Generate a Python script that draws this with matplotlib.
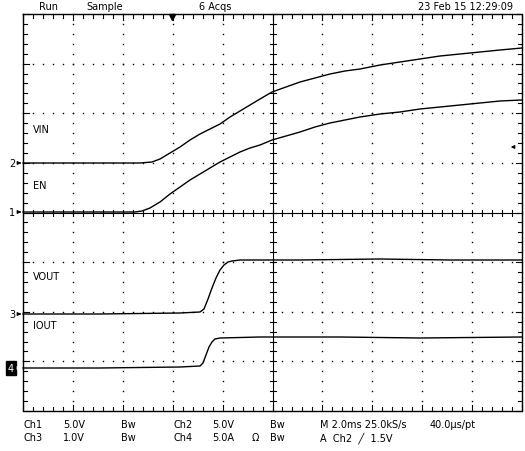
import numpy as np
import matplotlib
matplotlib.use('Agg')
import matplotlib.pyplot as plt

# traces as (x px, y px)
vin_x = [23, 60, 100, 140, 152, 160, 170, 180, 190, 200, 210, 220, 230, 240, 250, 260, 272, 286, 300, 315, 330, 345, 360, 380, 400, 420, 440, 460, 480, 500, 522]
vin_y = [164, 164, 164, 164, 163, 160, 154, 148, 141, 135, 130, 125, 118, 112, 106, 100, 93, 88, 83, 79, 75, 72, 70, 66, 63, 60, 57, 55, 53, 51, 49]
en_x = [23, 60, 100, 135, 142, 150, 160, 170, 180, 190, 200, 210, 220, 230, 240, 250, 260, 272, 286, 300, 315, 330, 345, 360, 380, 400, 420, 440, 460, 480, 500, 522]
en_y = [213, 213, 213, 213, 212, 209, 203, 195, 188, 181, 175, 169, 163, 158, 153, 149, 146, 141, 137, 133, 128, 124, 121, 118, 115, 113, 110, 108, 106, 104, 102, 101]
vout_x = [23, 100, 180, 200, 204, 208, 212, 216, 220, 224, 228, 232, 240, 300, 380, 450, 522]
vout_y = [315, 315, 314, 313, 310, 300, 289, 279, 271, 266, 263, 262, 261, 261, 260, 261, 261]
iout_x = [23, 100, 180, 200, 203, 206, 209, 212, 215, 220, 260, 340, 420, 522]
iout_y = [369, 369, 368, 367, 364, 356, 348, 343, 340, 339, 338, 338, 339, 338]

header = [(48, 'Run'), (105, 'Sample'), (215, '6 Acqs'), (465, '23 Feb 15 12:29:09')]
row1 = [(23, 'Ch1'), (63, '5.0V'), (121, 'Bw'), (173, 'Ch2'), (212, '5.0V'), (270, 'Bw'), (320, 'M 2.0ms 25.0kS/s'), (430, '40.0µs/pt')]
row2 = [(23, 'Ch3'), (63, '1.0V'), (121, 'Bw'), (173, 'Ch4'), (212, '5.0A'), (252, 'Ω'), (270, 'Bw'), (320, 'A  Ch2  ╱  1.5V')]

x0, x1, y0, y1 = 23, 522, 15, 412
dx = (x1 - x0) / 10
dy = (y1 - y0) / 8
xc, yc = x0 + 5 * dx, y0 + 4 * dy

fig = plt.figure(figsize=(5.25, 4.52), dpi=100)
ax = fig.add_axes([0, 0, 1, 1])
ax.set_xlim(0, 525)
ax.set_ylim(452, 0)
ax.axis('off')
k = 'black'

ax.plot([x0, x1, x1, x0, x0], [y0, y0, y1, y1, y0], color=k, lw=1)
# dotted graticule
for i in range(1, 10):
    if i == 5:
        continue
    xs = x0 + i * dx
    ys = np.arange(y0, y1, dy / 5)
    ax.plot([xs] * len(ys), ys, ls='none', marker='s', ms=1.0, mew=0, color=k)
for j in range(1, 8):
    if j == 4:
        continue
    ysv = y0 + j * dy
    xs = np.arange(x0, x1, dx / 5)
    ax.plot(xs, [ysv] * len(xs), ls='none', marker='s', ms=1.0, mew=0, color=k)
# center cross
ax.plot([xc, xc], [y0, y1], color=k, lw=0.8)
ax.plot([x0, x1], [yc, yc], color=k, lw=0.8)
for xt in np.arange(x0, x1 + 0.1, dx / 5):
    L = 6 if abs((xt - x0) / dx - round((xt - x0) / dx)) < 1e-6 else 4
    ax.plot([xt, xt], [y0, y0 + L], color=k, lw=0.8)
    ax.plot([xt, xt], [y1, y1 - L], color=k, lw=0.8)
    ax.plot([xt, xt], [yc - 3, yc + 3], color=k, lw=0.8)
for yt in np.arange(y0, y1 + 0.1, dy / 5):
    L = 6 if abs((yt - y0) / dy - round((yt - y0) / dy)) < 1e-6 else 4
    ax.plot([x0, x0 + L], [yt, yt], color=k, lw=0.8)
    ax.plot([x1, x1 - L], [yt, yt], color=k, lw=0.8)
    ax.plot([xc - 3, xc + 3], [yt, yt], color=k, lw=0.8)

for xs, ys in [(vin_x, vin_y), (en_x, en_y), (vout_x, vout_y), (iout_x, iout_y)]:
    ax.plot(xs, ys, color=k, lw=1)

fs = 7
for x, t in header:
    ax.text(x, 7, t, fontsize=fs, ha='center', va='center')
for x, t in row1:
    ax.text(x, 425, t, fontsize=fs, va='center')
for x, t in row2:
    ax.text(x, 438, t, fontsize=fs, va='center')

for t, y in [('VIN', 130), ('EN', 186), ('VOUT', 277), ('IOUT', 326)]:
    ax.text(33, y, t, fontsize=fs, va='center')
for t, y in [('2', 164), ('1', 213), ('3', 315)]:
    ax.text(12, y, t, fontsize=fs, va='center', ha='center')
    ax.annotate('', xy=(24, y), xytext=(17, y), arrowprops=dict(arrowstyle='-|>', color=k, lw=0.8, mutation_scale=5))
ax.text(11, 369, '4', fontsize=fs, va='center', ha='center', color='white',
        bbox=dict(boxstyle='square,pad=0.25', fc=k, ec=k))
ax.annotate('', xy=(24, 369), xytext=(17, 369), arrowprops=dict(arrowstyle='-|>', color='white', lw=0.8, mutation_scale=5))
ax.annotate('', xy=(508, 148), xytext=(517, 148), arrowprops=dict(arrowstyle='-|>', color=k, lw=0.8, mutation_scale=5))
ax.plot([172], [18], marker='v', ms=5, color=k)

fig.savefig('out.png', dpi=100, facecolor='white')
